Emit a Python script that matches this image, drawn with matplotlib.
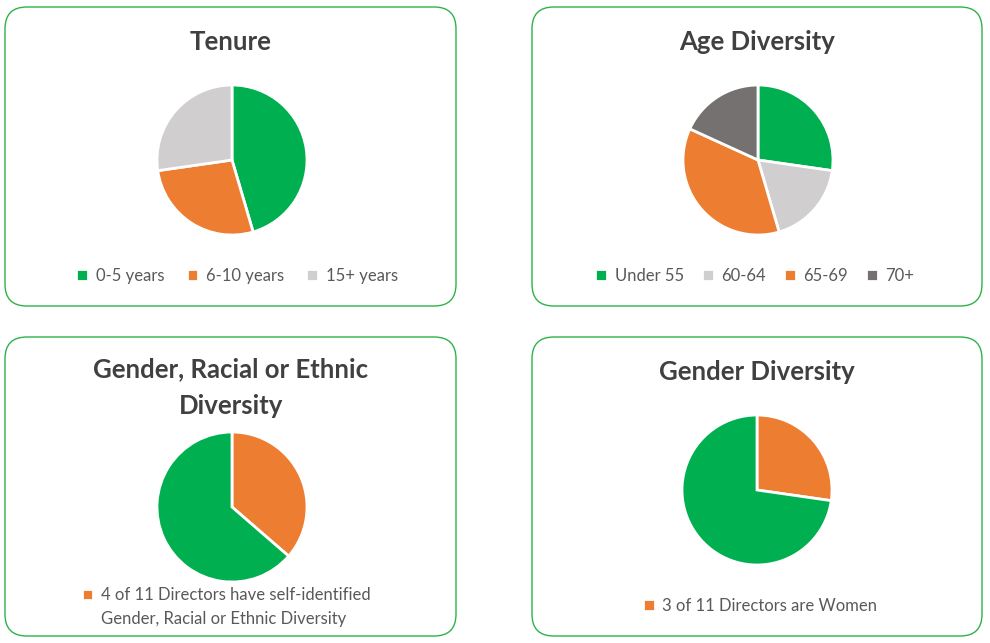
import matplotlib.pyplot as plt
from matplotlib.patches import FancyBboxPatch, Rectangle

plt.rcParams['font.family'] = ['Lato', 'DejaVu Sans']

GREEN = '#00B050'
ORANGE = '#ED7D31'
LIGHT = '#D0CECE'
DARK = '#767171'

# data (counts of 11 directors)
tenure_labels = ['0-5 years', '6-10 years', '15+ years']
tenure_values = [5, 3, 3]

age_labels = ['Under 55', '60-64', '65-69', '70+']
age_values = [3, 2, 4, 2]

grd_labels = ['4 of 11 Directors have self-identified', 'Gender, Racial or Ethnic Diversity']
grd_values = [4, 7]

gender_labels = ['3 of 11 Directors are Women']
gender_values = [3, 8]

W, H = 990, 643
fig = plt.figure(figsize=(W / 100, H / 100), dpi=100)
fig.patch.set_facecolor('white')


def box(x0, y0, x1, y1):
    p = FancyBboxPatch((x0 / W, 1 - y1 / H), (x1 - x0) / W, (y1 - y0) / H,
                       boxstyle='round,pad=0,rounding_size=0.022',
                       transform=fig.transFigure, facecolor='white',
                       edgecolor='#2DB34A', linewidth=1.0, mutation_aspect=W / H,
                       zorder=-5)
    fig.patches.append(p)


def pie_ax(cx, cy, r=75):
    ax = fig.add_axes([(cx - r) / W, 1 - (cy + r) / H, 2 * r / W, 2 * r / H])
    ax.axis('off')
    ax.patch.set_alpha(0)
    return ax


def fit(ax):
    ax.set_xlim(-1, 1)
    ax.set_ylim(-1, 1)


def title(x, y, s):
    fig.text(x / W, 1 - y / H, s, ha='center', va='center', fontsize=18.5,
             fontweight='bold', color='#404040', linespacing=1.65)


box(5, 7, 456, 306)
box(532, 7, 982, 306)
box(5, 337, 456, 636)
box(532, 337, 982, 636)

wp = dict(edgecolor='white', linewidth=2)

# Tenure
ax1 = pie_ax(232, 160)
w1, _ = ax1.pie(tenure_values, colors=[GREEN, ORANGE, LIGHT], startangle=90,
                counterclock=False, radius=1, wedgeprops=wp)
fit(ax1)
title(231, 42, 'Tenure')
leg_kw = dict(frameon=False, handlelength=0.7, handleheight=0.7, handletextpad=0.45,
              fontsize=12, labelcolor='#595959', borderaxespad=0)
fig.legend(w1, tenure_labels, loc='center', bbox_to_anchor=(237 / W, 1 - 276 / H),
           ncol=3, columnspacing=1.35, **leg_kw)

# Age Diversity
ax2 = pie_ax(758, 160)
w2, _ = ax2.pie(age_values, colors=[GREEN, LIGHT, ORANGE, DARK], startangle=90,
                counterclock=False, radius=1, wedgeprops=wp)
fit(ax2)
title(757, 42, 'Age Diversity')
fig.legend(w2, age_labels, loc='center', bbox_to_anchor=(755 / W, 1 - 276 / H),
           ncol=4, columnspacing=1.1, **leg_kw)

# Gender, Racial or Ethnic Diversity
ax3 = pie_ax(232, 507)
w3, _ = ax3.pie(grd_values, colors=[ORANGE, GREEN], startangle=90,
                counterclock=False, radius=1, wedgeprops=wp)
fit(ax3)
title(231, 388, 'Gender, Racial or Ethnic\nDiversity')
blank = Rectangle((0, 0), 1, 1, facecolor='none', edgecolor='none')
fig.legend([w3[0], blank], grd_labels, loc='center',
           bbox_to_anchor=(226 / W, 1 - 607 / H), ncol=1, labelspacing=0.45,
           **leg_kw)

# Gender Diversity
ax4 = pie_ax(757, 490)
w4, _ = ax4.pie(gender_values, colors=[ORANGE, GREEN], startangle=90,
                counterclock=False, radius=1, wedgeprops=wp)
fit(ax4)
title(757, 372, 'Gender Diversity')
fig.legend([w4[0]], gender_labels, loc='center', bbox_to_anchor=(760 / W, 1 - 606 / H),
           **leg_kw)

fig.savefig('out.png', dpi=100, facecolor='white')
